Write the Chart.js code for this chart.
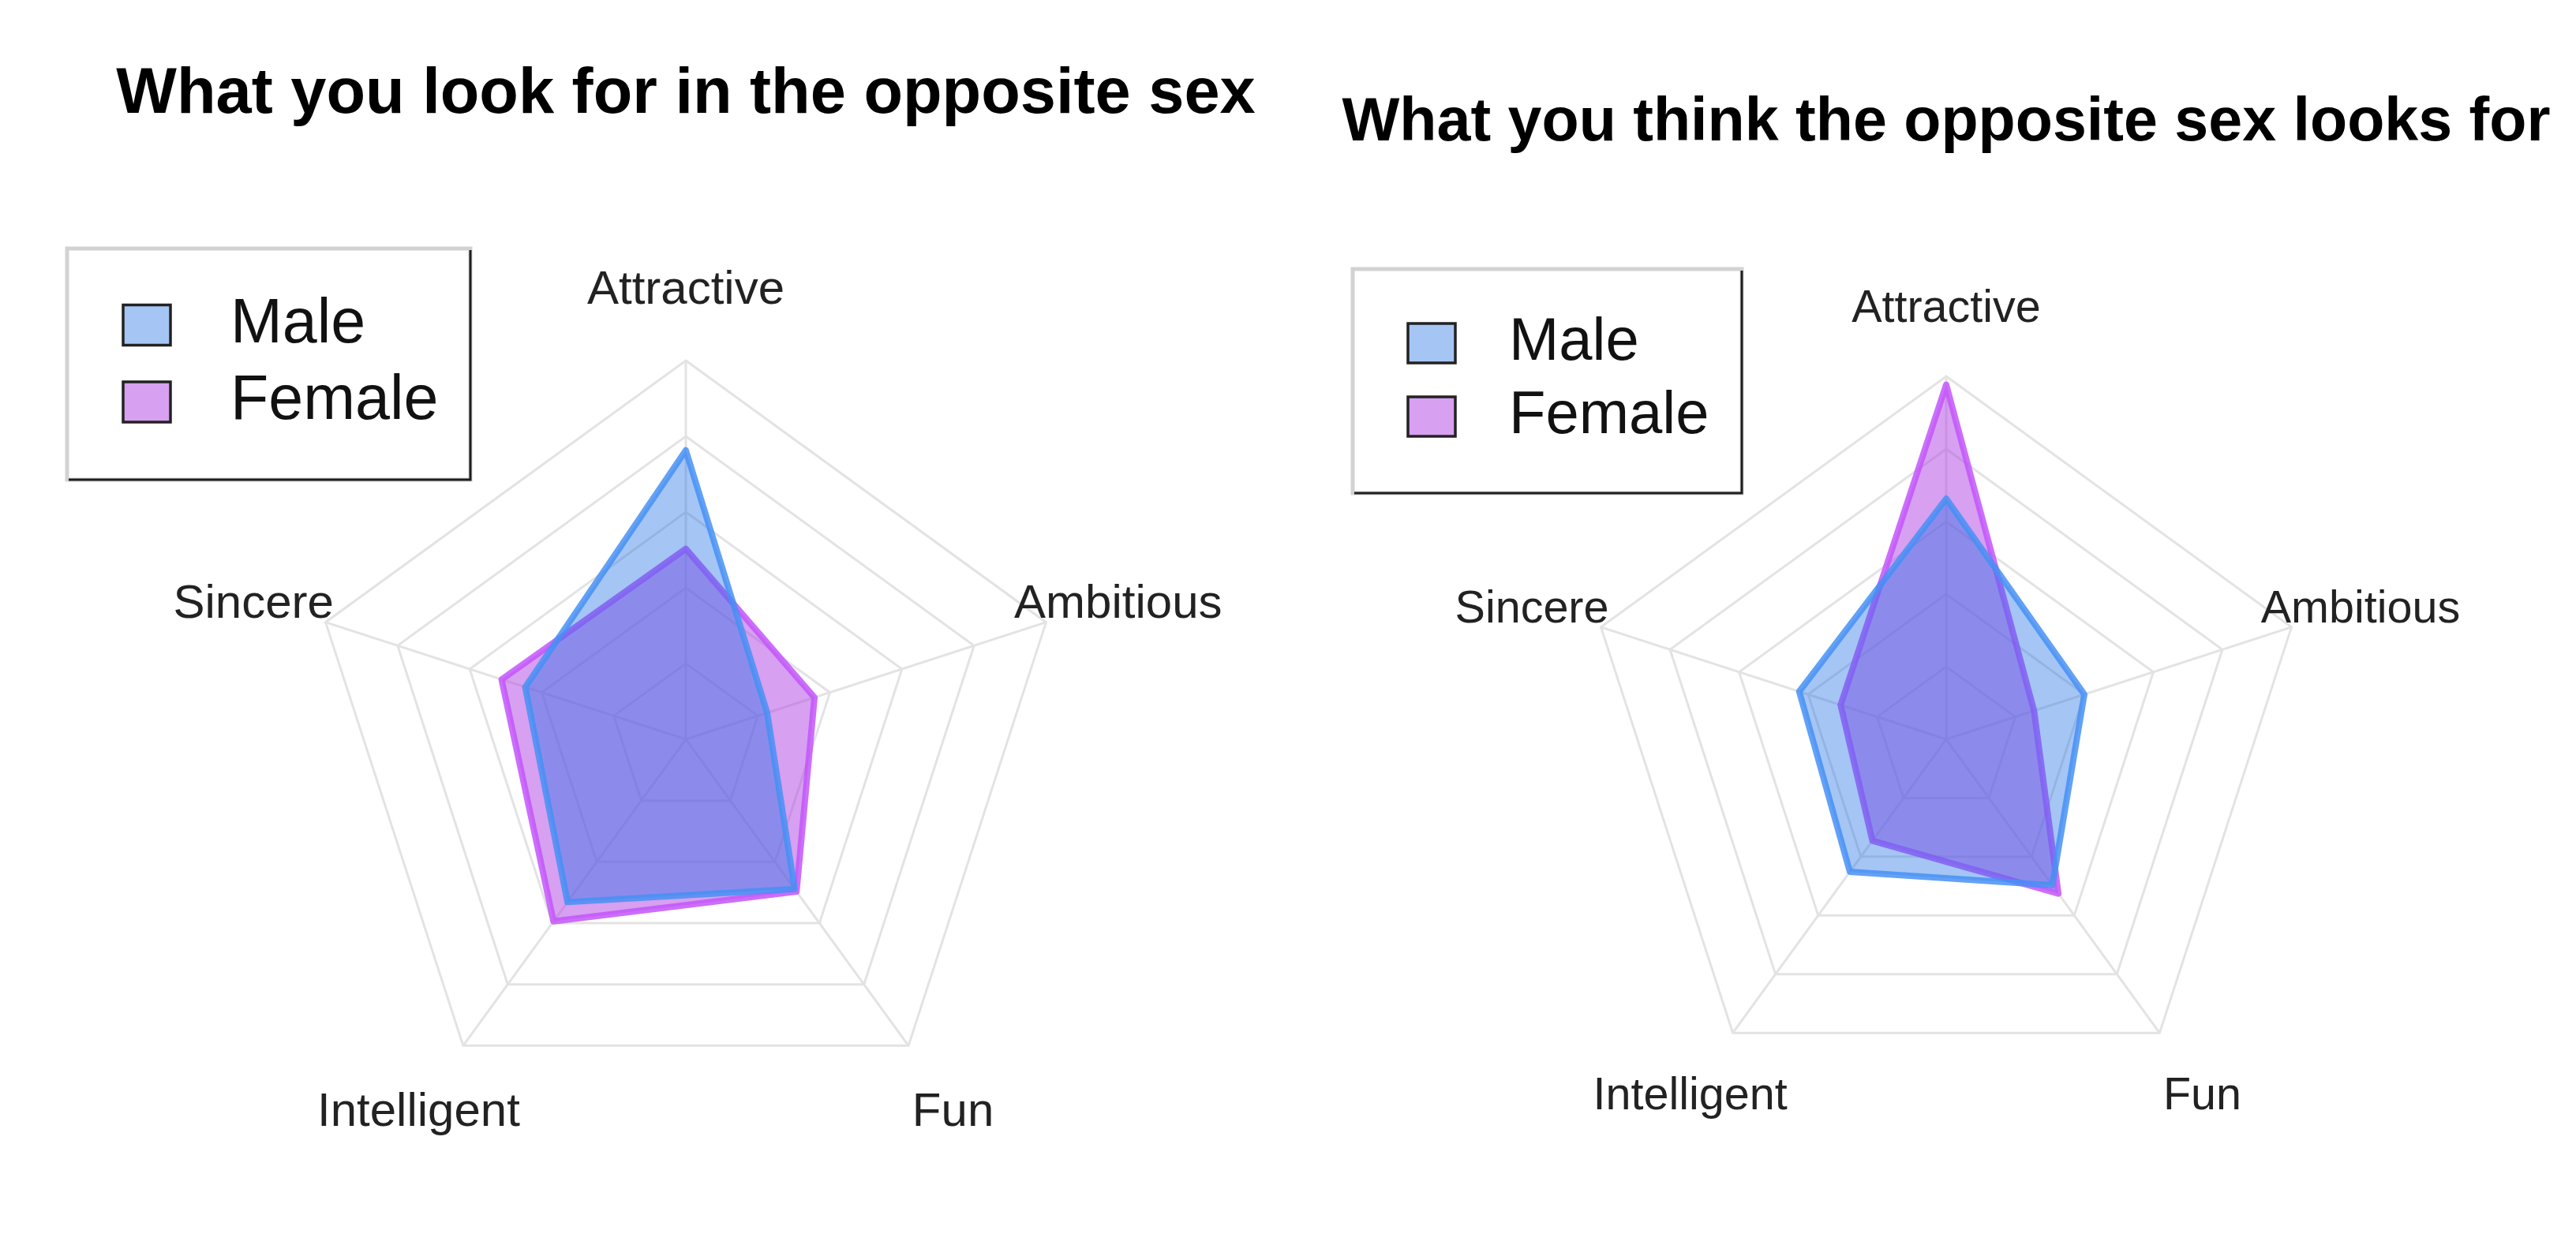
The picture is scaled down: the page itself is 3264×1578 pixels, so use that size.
<!DOCTYPE html>
<html><head><meta charset="utf-8">
<script src="https://cdn.jsdelivr.net/npm/chart.js@4.4.1/dist/chart.umd.min.js"></script>
<style>
html,body{margin:0;padding:0;background:#fff;width:3264px;height:1578px;overflow:hidden;}
.wrap{position:absolute;top:0;height:1578px;}
#w1{left:0;width:1738px;}
#w2{left:1668px;width:1596px;}
canvas{display:block;}
</style></head><body>
<div class="wrap" id="w1"><canvas id="c1" width="1738" height="1578"></canvas></div>
<div class="wrap" id="w2"><canvas id="c2" width="1596" height="1578"></canvas></div>
<script>
// ---- data ----
const categories = ['Attractive', 'Ambitious', 'Fun', 'Intelligent', 'Sincere'];
const seriesNames = ['Male', 'Female'];
const lookForMale = [26.7, 7.9, 17.1, 18.6, 15.6];
const lookForFemale = [17.6, 12.5, 17.4, 20.8, 17.9];
const thinkMale = [23.2, 14.0, 17.4, 15.8, 14.9];
const thinkFemale = [34.2, 8.9, 18.4, 12.1, 10.7];
const scaleMin = 0;
const scaleMax = 35;
const scaleStep = 7;
const chartTitles = ['What you look for in the opposite sex', 'What you think the opposite sex looks for'];

// ---- styles ----
const FAMILY = "'Liberation Sans', Arial, Helvetica, sans-serif";
const maleFill = 'rgba(30,110,230,0.40)';
const maleLine = 'rgba(70,145,245,0.85)';
const femaleFill = 'rgba(175,65,225,0.50)';
const femaleLine = 'rgba(195,85,250,0.85)';
const gridColor = '#e3e3e3';

const radialLabels = {
  id: 'radialLabels',
  afterDraw(chart, args, o) {
    const s = chart.scales.r, ctx = chart.ctx;
    ctx.save();
    ctx.font = o.size + 'px ' + FAMILY;
    ctx.fillStyle = o.color;
    ctx.textAlign = 'center';
    ctx.textBaseline = 'middle';
    chart.data.labels.forEach((lab, i) => {
      const p = s.getPointPosition(i, s.drawingArea * o.factor);
      ctx.fillText(lab, p.x, p.y + o.dy);
    });
    ctx.restore();
  }
};

const boxLegend = {
  id: 'boxLegend',
  afterDraw(chart, args, o) {
    const ctx = chart.ctx;
    ctx.save();
    ctx.fillStyle = '#fff';
    ctx.fillRect(o.x, o.y, o.w, o.h);
    ctx.strokeStyle = '#d2d2d2';
    ctx.lineWidth = 5;
    ctx.strokeRect(o.x, o.y, o.w, o.h);
    ctx.strokeStyle = '#1e1e1e';
    ctx.lineWidth = 3;
    ctx.beginPath();
    ctx.moveTo(o.x + o.w, o.y + 2);
    ctx.lineTo(o.x + o.w, o.y + o.h);
    ctx.lineTo(o.x + 2, o.y + o.h);
    ctx.stroke();
    chart.data.datasets.forEach((ds, i) => {
      const cy = o.y + o.rowY[i];
      const sx = o.x + o.sx, sy = cy - o.sh / 2;
      ctx.fillStyle = '#fff';
      ctx.fillRect(sx, sy, o.sw, o.sh);
      ctx.fillStyle = ds.backgroundColor;
      ctx.fillRect(sx, sy, o.sw, o.sh);
      ctx.strokeStyle = '#222';
      ctx.lineWidth = 3.5;
      ctx.strokeRect(sx, sy, o.sw, o.sh);
      ctx.fillStyle = '#111';
      ctx.font = o.size + 'px ' + FAMILY;
      ctx.textAlign = 'left';
      ctx.textBaseline = 'middle';
      ctx.fillText(ds.label, o.x + o.tx, cy);
    });
    ctx.restore();
  }
};

function makeChart(id, title, maleVals, femaleVals, cfg) {
  return new Chart(document.getElementById(id), {
    type: 'radar',
    data: {
      labels: categories,
      datasets: [
        { label: seriesNames[0], data: maleVals, backgroundColor: maleFill, borderColor: maleLine,
          borderWidth: 8, fill: true, pointRadius: 0, pointHoverRadius: 0, borderJoinStyle: 'round' },
        { label: seriesNames[1], data: femaleVals, backgroundColor: femaleFill, borderColor: femaleLine,
          borderWidth: 8, fill: true, pointRadius: 0, pointHoverRadius: 0, borderJoinStyle: 'round' }
      ]
    },
    options: {
      responsive: false,
      devicePixelRatio: 1,
      animation: false,
      layout: { padding: { top: cfg.padTop, bottom: cfg.padBottom, left: 0, right: 0 } },
      scales: {
        r: {
          min: scaleMin, max: scaleMax,
          ticks: { display: false, stepSize: scaleStep },
          grid: { color: gridColor, lineWidth: 3, circular: false },
          angleLines: { color: gridColor, lineWidth: 3 },
          pointLabels: { display: false }
        }
      },
      plugins: {
        legend: { display: false },
        tooltip: { enabled: false },
        title: {
          display: true, text: title, color: '#000',
          font: { family: FAMILY, size: cfg.titleSize, weight: 'bold', lineHeight: 1.2 },
          padding: { top: 0, bottom: cfg.titleGap }
        },
        radialLabels: { size: cfg.labelSize, color: '#222', factor: 1.2, dy: 7 },
        boxLegend: cfg.legend
      }
    },
    plugins: [radialLabels, boxLegend]
  });
}

makeChart('c1', chartTitles[0], lookForMale, lookForFemale, {
  padTop: 71.5, padBottom: 160, titleSize: 81.2, titleGap: 287.1, labelSize: 60,
  legend: { x: 85, y: 315, w: 511, h: 293, sx: 71, sw: 60, sh: 51, rowY: [97, 194.5], tx: 207, size: 79 }
});
makeChart('c2', chartTitles[1], thinkMale, thinkFemale, {
  padTop: 110.3, padBottom: 180, titleSize: 77.2, titleGap: 273.1, labelSize: 57.5,
  legend: { x: 46, y: 341, w: 493, h: 284, sx: 70, sw: 60, sh: 50, rowY: [94, 187], tx: 198, size: 76 }
});
</script>
</body></html>
